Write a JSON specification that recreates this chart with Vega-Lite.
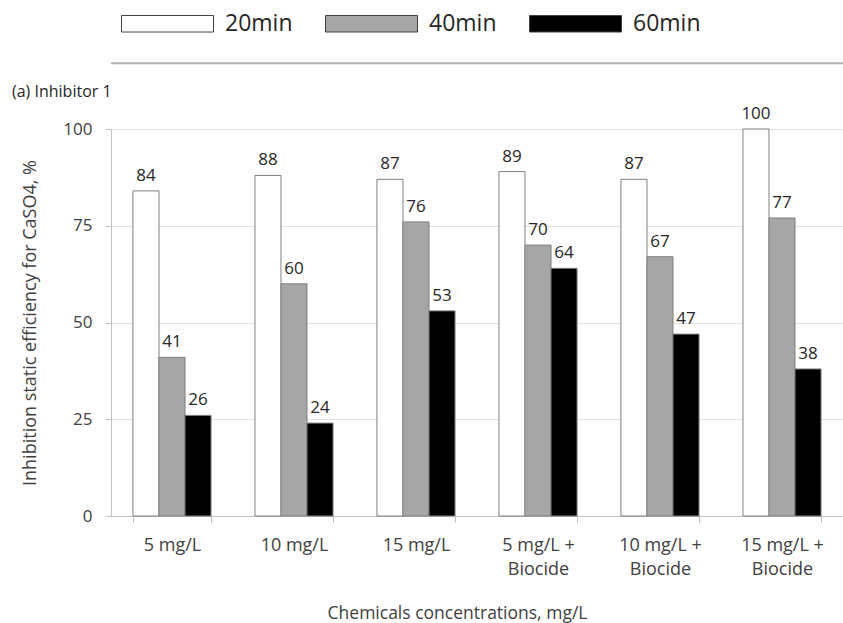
{
  "$schema": "https://vega.github.io/schema/vega-lite/v6.json",
  "width": 732,
  "height": 387,
  "autosize": {"type": "none"},
  "padding": {"left": 111, "top": 129, "right": 0, "bottom": 107},
  "background": "white",
  "config": {
    "font": "Open Sans",
    "view": {"stroke": null},
    "axis": {"labelColor": "#404040", "titleColor": "#404040", "titleFontWeight": "normal"}
  },
  "title": {
    "text": "(a) Inhibitor 1",
    "anchor": "start",
    "frame": "group",
    "dx": -99,
    "dy": 151,
    "fontSize": 16,
    "fontWeight": "normal",
    "color": "#262626",
    "offset": 28
  },
  "data": {
    "values": [
      {"conc": "5 mg/L", "time": "20min", "value": 84},
      {"conc": "5 mg/L", "time": "40min", "value": 41},
      {"conc": "5 mg/L", "time": "60min", "value": 26},
      {"conc": "10 mg/L", "time": "20min", "value": 88},
      {"conc": "10 mg/L", "time": "40min", "value": 60},
      {"conc": "10 mg/L", "time": "60min", "value": 24},
      {"conc": "15 mg/L", "time": "20min", "value": 87},
      {"conc": "15 mg/L", "time": "40min", "value": 76},
      {"conc": "15 mg/L", "time": "60min", "value": 53},
      {"conc": "5 mg/L + Biocide", "time": "20min", "value": 89},
      {"conc": "5 mg/L + Biocide", "time": "40min", "value": 70},
      {"conc": "5 mg/L + Biocide", "time": "60min", "value": 64},
      {"conc": "10 mg/L + Biocide", "time": "20min", "value": 87},
      {"conc": "10 mg/L + Biocide", "time": "40min", "value": 67},
      {"conc": "10 mg/L + Biocide", "time": "60min", "value": 47},
      {"conc": "15 mg/L + Biocide", "time": "20min", "value": 100},
      {"conc": "15 mg/L + Biocide", "time": "40min", "value": 77},
      {"conc": "15 mg/L + Biocide", "time": "60min", "value": 38}
    ]
  },
  "encoding": {
    "y": {
      "field": "value",
      "type": "quantitative",
      "scale": {"domain": [0, 100], "nice": false},
      "axis": {
        "title": "Inhibition static efficiency for  CaSO4, %",
        "titleFontSize": 18,
        "titlePadding": 23,
        "values": [0, 25, 50, 75, 100],
        "labelFontSize": 17,
        "labelPadding": 13,
        "tickSize": 6,
        "tickColor": "#bfbfbf",
        "domainColor": "#bfbfbf",
        "gridColor": "#e3e3e3"
      }
    }
  },
  "layer": [
    {
      "mark": {"type": "bar", "stroke": "#7f7f7f", "strokeWidth": 1},
      "encoding": {
        "x": {
          "field": "conc",
          "type": "nominal",
          "sort": ["5 mg/L", "10 mg/L", "15 mg/L", "5 mg/L + Biocide", "10 mg/L + Biocide", "15 mg/L + Biocide"],
          "scale": {"paddingInner": 0.36, "paddingOuter": 0.18},
          "axis": {
            "title": "Chemicals concentrations, mg/L",
            "titleFontSize": 17.5,
            "titleX": 346,
            "titleY": 102,
            "titleBaseline": "alphabetic",
            "labelAngle": 0,
            "labelFontSize": 18,
            "labelPadding": 14,
            "labelLineHeight": 24,
            "labelExpr": "indexof(datum.label, 'Biocide') > 0 ? [replace(datum.label, ' Biocide', ''), 'Biocide'] : datum.label",
            "tickBand": "extent",
            "tickSize": 6,
            "tickColor": "#bfbfbf",
            "domainColor": "#bfbfbf",
            "grid": false
          }
        },
        "xOffset": {"field": "time", "type": "nominal", "sort": ["20min", "40min", "60min"], "scale": {"paddingInner": 0, "paddingOuter": 0}},
        "fill": {
          "field": "time",
          "type": "nominal",
          "scale": {"domain": ["20min", "40min", "60min"], "range": ["#ffffff", "#a6a6a6", "#000000"]},
          "legend": {
            "orient": "none",
            "legendX": 10,
            "legendY": -152,
            "direction": "horizontal",
            "title": null,
            "symbolType": "M-1,-0.18H1V0.18H-1Z",
            "symbolSize": 8464,
            "symbolStrokeColor": "#404040",
            "symbolStrokeWidth": 1,
            "symbolOpacity": 1,
            "labelFontSize": 23,
            "labelOffset": 11,
            "labelColor": "#262626",
            "columnPadding": 30
          }
        }
      }
    },
    {
      "mark": {"type": "text", "dy": -10, "baseline": "alphabetic", "fontSize": 17, "color": "#262626"},
      "encoding": {
        "x": {"field": "conc", "type": "nominal", "sort": ["5 mg/L", "10 mg/L", "15 mg/L", "5 mg/L + Biocide", "10 mg/L + Biocide", "15 mg/L + Biocide"]},
        "xOffset": {"field": "time", "type": "nominal", "sort": ["20min", "40min", "60min"]},
        "text": {"field": "value", "type": "quantitative"}
      }
    },
    {
      "data": {"values": [{"line": 117}]},
      "mark": {"type": "rule", "color": "#b3b3b3", "strokeWidth": 2, "clip": false},
      "encoding": {"y": {"field": "line", "type": "quantitative"}}
    }
  ]
}
